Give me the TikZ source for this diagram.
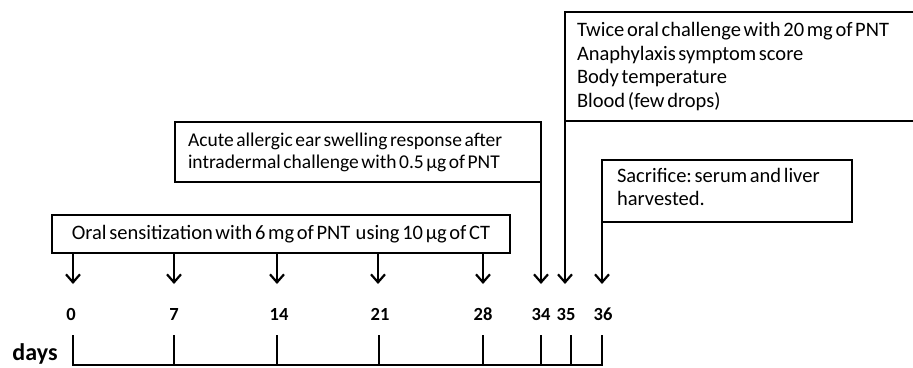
\documentclass[tikz,border=0pt]{standalone}
\usepackage{fontspec}
\setmainfont{Carlito}
\usetikzlibrary{arrows.meta}
\newcommand{\boxfont}[2]{\fontsize{#1}{#2}\selectfont\fontdimen2\font=0.13em\frenchspacing}
\tikzset{
  stagebox/.style={draw, line width=2.2pt, inner sep=0pt, outer sep=0pt, anchor=north west, align=left,
    font=\boxfont{20.5}{23}},
  dayarrow/.style={line width=2.2pt, -{Straight Barb[length=8pt, width=14pt, line width=2.2pt]}},
  daylabel/.style={font=\bfseries\fontsize{18.5}{21}\selectfont},
  tick/.style={line width=2.2pt}
}
\begin{document}
\begin{tikzpicture}[x=1pt, y=-1pt]
  \useasboundingbox (0,0) rectangle (913,367);

  % 枠
  \node[stagebox, minimum width=458pt, minimum height=38pt, align=center] (oral) at (52,215)
    {Oral sensitization with 6 mg of PNT\ \ using 10 µg of CT};
  \node[stagebox, minimum width=366pt, minimum height=60pt, font=\boxfont{19.5}{22}] (ear) at (175,122)
    {\makebox[340pt][l]{Acute allergic ear swelling response after}\\
     intradermal challenge with 0.5 µg of PNT};
  \node[stagebox, minimum width=380pt, minimum height=109pt, font=\boxfont{20.5}{23.5}] (chal) at (565,12)
    {\makebox[356pt][l]{Twice oral challenge with 20 mg of PNT}\\
     Anaphylaxis symptom score\\
     Body temperature\\
     Blood (few drops)};
  \node[stagebox, minimum width=250pt, minimum height=62pt] (sac) at (602,160)
    {\makebox[220pt][l]{Sacrifice: serum and liver}\\
     harvested.\\[-15pt]\mbox{}};

  % 矢印の先
  \coordinate (a0) at (73,284);
  \coordinate (a7) at (174,284);
  \coordinate (a14) at (277,284);
  \coordinate (a21) at (378,284);
  \coordinate (a28) at (483,284);
  \coordinate (a34) at (541,284);
  \coordinate (a35) at (565,284);
  \coordinate (a36) at (602,284);

  % 矢印
  \draw[dayarrow] (oral.south -| a0) -- (a0);
  \draw[dayarrow] (oral.south -| a7) -- (a7);
  \draw[dayarrow] (oral.south -| a14) -- (a14);
  \draw[dayarrow] (oral.south -| a21) -- (a21);
  \draw[dayarrow] (oral.south -| a28) -- (a28);
  \draw[dayarrow] (ear.south east) -- (a34);
  \draw[dayarrow] (chal.south west) -- (a35);
  \draw[dayarrow] (sac.south west) -- (a36);

  % 日付
  \node[daylabel] (l0) at (71,314) {0};
  \node[daylabel] (l7) at (174,314) {7};
  \node[daylabel] (l14) at (279,314) {14};
  \node[daylabel] (l21) at (380,314) {21};
  \node[daylabel] (l28) at (483,314) {28};
  \node[daylabel] (l34) at (541,314) {34};
  \node[daylabel] (l35) at (566,314) {35};
  \node[daylabel] (l36) at (603,314) {36};
  \node[font=\bfseries\fontsize{24}{26}\selectfont] (days) at (35,354) {days};

  % 目盛り
  \draw[tick] (73,335) -- (73,365) -- (602,365) -- (602,335);
  \draw[tick] (174,335) -- (174,365);
  \draw[tick] (277,335) -- (277,365);
  \draw[tick] (379,335) -- (379,365);
  \draw[tick] (483,335) -- (483,365);
  \draw[tick] (541,335) -- (541,365);
  \draw[tick] (571,335) -- (571,365);
\end{tikzpicture}
\end{document}
